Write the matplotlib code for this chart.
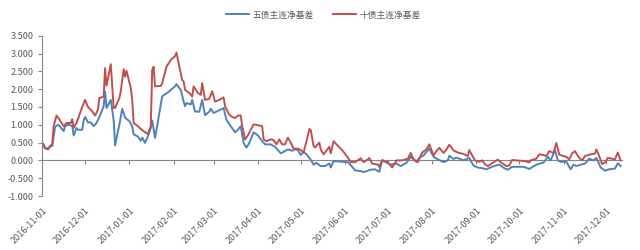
import matplotlib
matplotlib.use("Agg")
import matplotlib.pyplot as plt
import pandas as pd

plt.rcParams['font.family'] = ['Noto Sans CJK SC', 'DejaVu Sans']
plt.rcParams['axes.unicode_minus'] = False

# 十债主连净基差
red_dates = [
    '2016-11-01', '2016-11-03', '2016-11-05', '2016-11-08', '2016-11-09', '2016-11-11', '2016-11-13',
    '2016-11-16', '2016-11-18', '2016-11-21', '2016-11-22', '2016-11-23', '2016-11-25', '2016-11-29',
    '2016-12-01', '2016-12-03', '2016-12-06', '2016-12-08', '2016-12-10', '2016-12-11', '2016-12-14',
    '2016-12-15', '2016-12-16', '2016-12-19', '2016-12-21', '2016-12-22', '2016-12-25', '2016-12-26',
    '2016-12-28', '2016-12-29', '2016-12-30', '2017-01-02', '2017-01-03', '2017-01-04', '2017-01-07',
    '2017-01-09', '2017-01-11', '2017-01-14', '2017-01-15', '2017-01-16', '2017-01-17', '2017-01-18',
    '2017-01-19', '2017-01-23', '2017-01-24', '2017-01-27', '2017-01-30', '2017-02-02', '2017-02-03',
    '2017-02-05', '2017-02-07', '2017-02-08', '2017-02-09', '2017-02-12', '2017-02-14', '2017-02-15',
    '2017-02-18', '2017-02-20', '2017-02-21', '2017-02-23', '2017-02-26', '2017-02-28', '2017-03-02',
    '2017-03-05', '2017-03-08', '2017-03-09', '2017-03-12', '2017-03-14', '2017-03-16', '2017-03-18',
    '2017-03-20', '2017-03-21', '2017-03-23', '2017-03-25', '2017-03-27', '2017-03-29', '2017-04-01',
    '2017-04-04', '2017-04-05', '2017-04-07', '2017-04-10', '2017-04-12', '2017-04-14', '2017-04-16',
    '2017-04-18', '2017-04-20', '2017-04-22', '2017-04-24', '2017-04-26', '2017-04-29', '2017-05-01',
    '2017-05-03', '2017-05-05', '2017-05-07', '2017-05-08', '2017-05-10', '2017-05-11', '2017-05-14',
    '2017-05-15', '2017-05-17', '2017-05-18', '2017-05-21', '2017-05-22', '2017-05-24', '2017-05-26',
    '2017-05-30', '2017-06-03', '2017-06-05', '2017-06-08', '2017-06-12', '2017-06-14', '2017-06-17',
    '2017-06-18', '2017-06-20', '2017-06-24', '2017-06-25', '2017-06-27', '2017-07-01', '2017-07-04',
    '2017-07-07', '2017-07-11', '2017-07-15', '2017-07-17', '2017-07-19', '2017-07-22', '2017-07-25',
    '2017-07-28', '2017-07-30', '2017-08-02', '2017-08-04', '2017-08-06', '2017-08-09', '2017-08-11',
    '2017-08-13', '2017-08-16', '2017-08-19', '2017-08-23', '2017-08-26', '2017-08-27', '2017-08-29',
    '2017-08-31', '2017-09-03', '2017-09-05', '2017-09-07', '2017-09-09', '2017-09-12', '2017-09-16',
    '2017-09-18', '2017-09-22', '2017-09-24', '2017-09-26', '2017-10-05', '2017-10-08', '2017-10-09',
    '2017-10-13', '2017-10-15', '2017-10-18', '2017-10-20', '2017-10-22', '2017-10-25', '2017-10-27',
    '2017-10-29', '2017-11-01', '2017-11-03', '2017-11-05', '2017-11-07', '2017-11-09', '2017-11-12',
    '2017-11-14', '2017-11-16', '2017-11-19', '2017-11-23', '2017-11-24', '2017-11-26', '2017-11-28',
    '2017-11-30', '2017-12-02', '2017-12-07', '2017-12-09', '2017-12-11',
]
red_values = [
    0.51, 0.34, 0.31, 0.45, 0.96, 1.26, 1.15,
    0.96, 1.05, 1.05, 1.16, 0.91, 1.05, 1.50,
    1.70, 1.50, 1.38, 1.26, 1.42, 1.75, 1.79,
    2.59, 2.10, 2.70, 1.47, 1.47, 1.75, 1.94,
    2.56, 2.35, 2.52, 2.03, 1.70, 1.05, 0.96,
    0.88, 0.82, 0.74, 0.86, 0.96, 2.54, 2.63,
    2.08, 2.09, 2.17, 2.63, 2.82, 2.93, 3.03,
    2.63, 2.26, 2.22, 1.98, 1.89, 1.79, 2.08,
    1.89, 1.84, 2.17, 1.70, 1.73, 1.94, 1.65,
    1.70, 1.77, 1.52, 1.28, 1.22, 1.19, 1.26,
    1.26, 0.96, 0.59, 0.70, 0.86, 1.01, 0.99,
    0.96, 0.59, 0.54, 0.59, 0.57, 0.45, 0.59,
    0.45, 0.45, 0.64, 0.50, 0.33, 0.33, 0.29,
    0.22, 0.54, 0.88, 0.85, 0.40, 0.36, 0.50,
    0.31, 0.17, 0.22, 0.38, 0.20, 0.54, 0.45,
    0.29, 0.08, -0.05, -0.05, 0.06, -0.05, 0.03,
    0.07, -0.09, -0.12, -0.18, 0.01, -0.05, -0.20,
    0.00, 0.00, 0.05, 0.21, 0.03, -0.05, 0.22,
    0.31, 0.45, 0.14, 0.26, 0.35, 0.21, 0.30,
    0.44, 0.28, 0.22, 0.18, 0.12, 0.29, 0.14,
    0.00, -0.04, 0.00, -0.11, -0.16, -0.08, 0.02,
    -0.05, -0.16, -0.14, 0.01, -0.02, -0.06, 0.00,
    0.05, 0.17, 0.15, 0.12, 0.26, 0.21, 0.49,
    0.16, 0.12, 0.10, 0.03, 0.20, 0.26, 0.07,
    0.00, 0.12, 0.16, 0.19, 0.31, 0.12, -0.10,
    -0.06, 0.07, 0.03, 0.22, 0.00,
]

# 五债主连净基差
blue_dates = [
    '2016-11-01', '2016-11-03', '2016-11-05', '2016-11-07', '2016-11-08', '2016-11-10', '2016-11-12',
    '2016-11-13', '2016-11-16', '2016-11-17', '2016-11-19', '2016-11-22', '2016-11-23', '2016-11-25',
    '2016-11-26', '2016-11-29', '2016-11-30', '2016-12-01', '2016-12-03', '2016-12-05', '2016-12-07',
    '2016-12-09', '2016-12-11', '2016-12-14', '2016-12-15', '2016-12-16', '2016-12-19', '2016-12-21',
    '2016-12-22', '2016-12-24', '2016-12-25', '2016-12-27', '2016-12-29', '2017-01-01', '2017-01-03',
    '2017-01-04', '2017-01-07', '2017-01-09', '2017-01-10', '2017-01-12', '2017-01-14', '2017-01-16',
    '2017-01-17', '2017-01-19', '2017-01-22', '2017-01-24', '2017-01-28', '2017-02-02', '2017-02-03',
    '2017-02-06', '2017-02-08', '2017-02-09', '2017-02-10', '2017-02-13', '2017-02-14', '2017-02-16',
    '2017-02-19', '2017-02-21', '2017-02-23', '2017-02-26', '2017-02-27', '2017-03-01', '2017-03-05',
    '2017-03-08', '2017-03-10', '2017-03-13', '2017-03-16', '2017-03-18', '2017-03-20', '2017-03-22',
    '2017-03-24', '2017-03-26', '2017-03-29', '2017-04-01', '2017-04-04', '2017-04-06', '2017-04-10',
    '2017-04-13', '2017-04-17', '2017-04-19', '2017-04-22', '2017-04-25', '2017-04-27', '2017-04-29',
    '2017-05-01', '2017-05-03', '2017-05-05', '2017-05-08', '2017-05-10', '2017-05-12', '2017-05-15',
    '2017-05-18', '2017-05-21', '2017-05-22', '2017-05-24', '2017-06-03', '2017-06-06', '2017-06-08',
    '2017-06-12', '2017-06-14', '2017-06-17', '2017-06-19', '2017-06-22', '2017-06-25', '2017-06-27',
    '2017-07-01', '2017-07-03', '2017-07-07', '2017-07-10', '2017-07-14', '2017-07-17', '2017-07-21',
    '2017-07-23', '2017-07-26', '2017-07-30', '2017-08-02', '2017-08-05', '2017-08-09', '2017-08-12',
    '2017-08-13', '2017-08-16', '2017-08-18', '2017-08-23', '2017-08-27', '2017-08-30', '2017-09-02',
    '2017-09-05', '2017-09-08', '2017-09-12', '2017-09-15', '2017-09-17', '2017-09-21', '2017-09-23',
    '2017-09-26', '2017-10-04', '2017-10-08', '2017-10-13', '2017-10-18', '2017-10-21', '2017-10-23',
    '2017-10-26', '2017-10-28', '2017-10-30', '2017-11-03', '2017-11-06', '2017-11-08', '2017-11-10',
    '2017-11-13', '2017-11-16', '2017-11-19', '2017-11-22', '2017-11-24', '2017-11-27', '2017-11-30',
    '2017-12-03', '2017-12-07', '2017-12-09', '2017-12-11',
]
blue_values = [
    0.51, 0.34, 0.34, 0.42, 0.40, 0.94, 1.00,
    0.97, 0.82, 0.96, 1.00, 0.97, 0.70, 0.91,
    0.86, 0.86, 1.13, 1.22, 1.07, 1.07, 0.96,
    1.05, 1.22, 1.52, 1.94, 1.47, 1.70, 1.14,
    0.42, 0.82, 1.00, 1.45, 1.20, 1.10, 0.96,
    0.73, 0.67, 0.55, 0.64, 0.49, 0.68, 0.91,
    1.12, 0.63, 1.33, 1.80, 1.91, 2.08, 2.14,
    1.98, 1.65, 1.52, 1.61, 1.57, 1.70, 1.37,
    1.37, 1.70, 1.27, 1.37, 1.45, 1.33, 1.41,
    1.47, 1.14, 0.96, 0.79, 0.86, 0.96, 0.49,
    0.36, 0.49, 0.79, 0.70, 0.54, 0.45, 0.45,
    0.38, 0.20, 0.24, 0.31, 0.27, 0.31, 0.29,
    0.15, 0.24, 0.17, 0.02, -0.12, -0.07, -0.16,
    -0.16, -0.09, -0.20, -0.02, -0.05, -0.18, -0.28,
    -0.30, -0.33, -0.29, -0.26, -0.25, -0.32, 0.00,
    -0.08, -0.12, -0.09, -0.16, -0.07, 0.10, -0.04,
    0.07, 0.14, 0.33, 0.10, 0.03, -0.05, 0.00,
    0.13, 0.04, 0.08, 0.00, 0.07, -0.15, -0.20,
    -0.22, -0.25, -0.18, -0.14, -0.12, -0.23, -0.26,
    -0.18, -0.18, -0.24, -0.12, -0.06, 0.10, 0.00,
    0.29, 0.00, -0.04, -0.04, -0.25, -0.12, -0.16,
    -0.12, -0.09, 0.05, 0.00, 0.07, -0.20, -0.29,
    -0.25, -0.23, -0.08, -0.16,
]

tick_dates = ['2016-11-01', '2016-12-01', '2017-01-01', '2017-02-01', '2017-03-01', '2017-04-01',
              '2017-05-01', '2017-06-01', '2017-07-01', '2017-08-01', '2017-09-01', '2017-10-01',
              '2017-11-01', '2017-12-01']

blue_c = '#4F81BD'
red_c = '#C0504D'
grey = '#595959'

fig = plt.figure(figsize=(6.4, 2.5), dpi=100)
ax = fig.add_axes([0.066, 0.216, 0.906, 0.641])

ax.plot(pd.to_datetime(blue_dates), blue_values, color=blue_c, lw=1.4, label='五债主连净基差')
ax.plot(pd.to_datetime(red_dates), red_values, color=red_c, lw=1.4, label='十债主连净基差')

ax.set_ylim(-1.0, 3.5)
ax.set_yticks([i * 0.5 - 1.0 for i in range(10)])
ax.yaxis.set_major_formatter(plt.FuncFormatter(lambda v, p: f'{v:.3f}'))
ax.set_xlim(pd.Timestamp('2016-11-01'), pd.Timestamp('2017-12-12'))

ticks = pd.to_datetime(tick_dates)
ax.set_xticks(ticks)
ax.set_xticklabels(tick_dates, rotation=45, ha='right', rotation_mode='anchor')
ax.tick_params(axis='x', length=0, labelsize=6.5, labelcolor=grey, pad=7)
ax.tick_params(axis='y', direction='out', length=3, color='#868686', labelsize=6.5, labelcolor=grey)

for s in ['top', 'right', 'bottom']:
    ax.spines[s].set_visible(False)
ax.spines['left'].set_color('#868686')
ax.spines['left'].set_linewidth(0.8)

# zero line with downward month ticks
zero = ax.secondary_xaxis(1.0 / 4.5)
zero.set_xticks(ticks)
zero.set_xticklabels([])
zero.tick_params(direction='out', length=3, color='#868686')
zero.spines['bottom'].set_color('#868686')
zero.spines['bottom'].set_linewidth(0.8)

fig.legend(loc='upper center', bbox_to_anchor=(0.505, 0.99), ncol=2, frameon=False,
           fontsize=6.3, handlelength=2.6, handletextpad=0.4, columnspacing=2.2, labelcolor=grey)

fig.savefig('out.png', dpi=100)
